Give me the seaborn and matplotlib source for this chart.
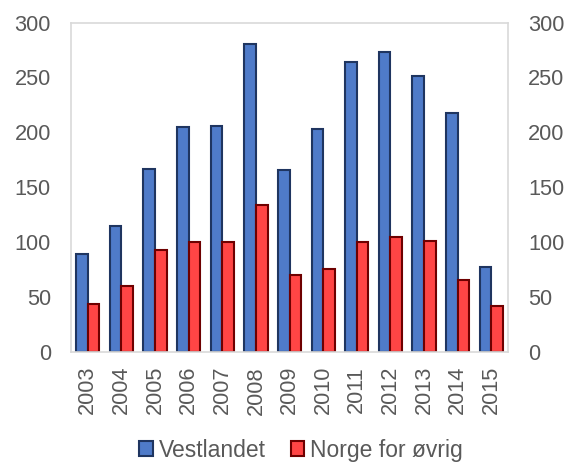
import matplotlib
matplotlib.use("Agg")
import matplotlib.pyplot as plt
import seaborn as sns
import pandas as pd
from matplotlib.patches import Patch

years = ["2003", "2004", "2005", "2006", "2007", "2008", "2009", "2010", "2011", "2012", "2013", "2014", "2015"]
vestlandet = [89, 115, 167, 205, 206, 280, 166, 203, 264, 273, 251, 218, 77]
norge = [44, 60, 93, 100, 100, 134, 70, 76, 100, 105, 101, 66, 42]
series = ["Vestlandet", "Norge for øvrig"]
yticks = [0, 50, 100, 150, 200, 250, 300]

df = pd.DataFrame({
    "year": years * 2,
    "value": vestlandet + norge,
    "series": [series[0]] * len(years) + [series[1]] * len(years),
})

sns.set_theme(style="white")
plt.rcParams["font.family"] = ["Liberation Sans", "DejaVu Sans"]

fills = ["#4F7BC9", "#FF4545"]
edges = ["#1F3560", "#6E0000"]
fs = 15.7

fig = plt.figure(figsize=(5.7, 4.66), dpi=100)
ax = fig.add_axes([0.1246, 0.2446, 0.7667, 0.7071])

sns.barplot(data=df, x="year", y="value", hue="series", palette=fills,
            width=0.69, ax=ax, legend=False, saturation=1)

for i, cont in enumerate(ax.containers):
    for bar in cont:
        bar.set_edgecolor(edges[i])
        bar.set_linewidth(1.5)

ax.set_ylim(0, 300)
ax.set_xlim(-0.5, len(years) - 0.5)
ax.set_yticks(yticks)
ax.set_xlabel("")
ax.set_ylabel("")
for s in ax.spines.values():
    s.set_color("#D9D9D9")
    s.set_linewidth(1.2)
ax.tick_params(axis="y", labelleft=True, labelright=True, left=False, right=False,
               labelsize=fs, colors="#595959", length=0, pad=14.5)
ax.tick_params(axis="x", labelsize=fs, colors="#595959", rotation=90, bottom=False,
               length=0, pad=10)

handles = [Patch(facecolor=fills[i], edgecolor=edges[i], linewidth=1.5, label=series[i]) for i in range(2)]
fig.legend(handles=handles, loc="center", bbox_to_anchor=(0.528, 0.034), ncol=2, frameon=False,
           fontsize=16.5, handlelength=0.6, handleheight=0.6, handletextpad=0.25, columnspacing=1.1,
           labelcolor="#595959", borderpad=0.1)

fig.savefig("out.png", dpi=100)
